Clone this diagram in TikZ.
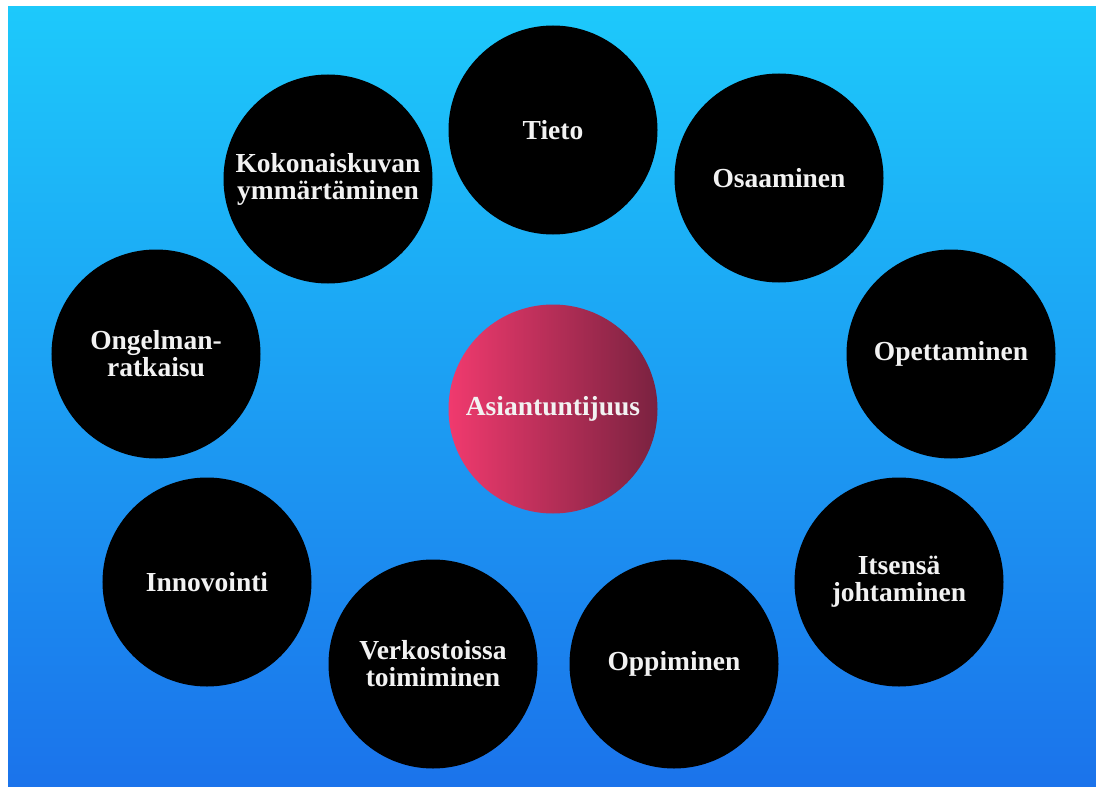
\documentclass[tikz,border=0pt]{standalone}
\usepackage{fontspec}
\setmainfont{Liberation Serif}
\definecolor{skytop}{RGB}{29,201,251}
\definecolor{skybottom}{RGB}{27,115,235}
\definecolor{rosewarm}{RGB}{240,58,110}
\definecolor{rosedeep}{RGB}{122,34,64}
\definecolor{labelwhite}{RGB}{242,242,242}
\begin{document}
\begin{tikzpicture}[x=1bp,y=-1bp,
  bubble/.style={circle, fill=black, minimum size=209bp, inner sep=0pt,
    text=labelwhite, align=center,
    font=\bfseries\fontsize{27.5bp}{27bp}\selectfont},
  hub/.style={bubble, fill=none, left color=rosewarm, right color=rosedeep}]
  % page and gradient backdrop
  \fill[white] (0,0) rectangle (1096,787);
  \useasboundingbox (0,0) rectangle (1096,787);
  \shade[top color=skytop, bottom color=skybottom] (8,7) rectangle (1096,787);

  % central topic
  \node[hub] (hub) at (553,409) {Asiantuntijuus};

  % surrounding topics
  \node[bubble] (tieto)   at (553,130) {Tieto};
  \node[bubble] (osaa)    at (779,178) {Osaaminen};
  \node[bubble] (opet)    at (951,354) {Opettaminen};
  \node[bubble] (itse)    at (899,582) {Itsensä\\johtaminen};
  \node[bubble] (oppi)    at (674,664) {Oppiminen};
  \node[bubble] (verk)    at (433,664) {Verkostoissa\\toimiminen};
  \node[bubble] (inno)    at (207,582) {Innovointi};
  \node[bubble] (ongel)   at (156,354) {Ongelman-\\ratkaisu};
  \node[bubble] (kokon)   at (328,179) {Kokonaiskuvan\\ymmärtäminen};
\end{tikzpicture}
\end{document}
